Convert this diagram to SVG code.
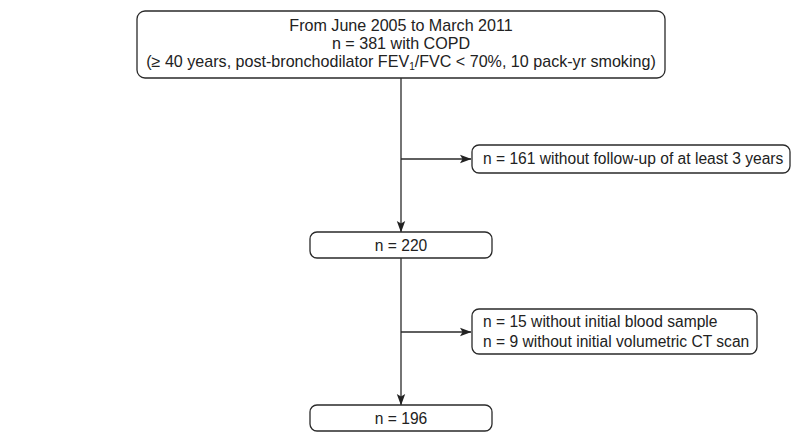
<svg xmlns="http://www.w3.org/2000/svg" width="797" height="432" viewBox="0 0 797 432">
<style>
.box{fill:#fff;stroke:#2a2a2a;stroke-width:1.3}
.t{font-family:"Liberation Sans",Arial,sans-serif;font-size:15.6px;fill:#222}
.big{font-size:16.1px}
.c{text-anchor:middle}
.ln{stroke:#2a2a2a;stroke-width:1.3;fill:none}
</style>
<defs>
<marker id="ah" markerWidth="12" markerHeight="10" refX="11" refY="5" orient="auto" markerUnits="userSpaceOnUse">
<path d="M0,0.8 L11.5,5 L0,9.2 L2.5,5 Z" fill="#222"/>
</marker>
</defs>
<rect width="797" height="432" fill="#fff"/>
<g id="connectors">
<line class="ln" x1="401" y1="78" x2="401" y2="232" marker-end="url(#ah)"/>
<line class="ln" x1="401" y1="159" x2="471" y2="159" marker-end="url(#ah)"/>
<line class="ln" x1="401" y1="258" x2="401" y2="405" marker-end="url(#ah)"/>
<line class="ln" x1="401" y1="332" x2="471" y2="332" marker-end="url(#ah)"/>
</g>
<g id="n1">
<rect class="box" x="137" y="11" width="528" height="67" rx="8"/>
<text class="t big c" x="401" y="31">From June 2005 to March 2011</text>
<text class="t big c" x="401" y="49">n = 381 with COPD</text>
<text class="t big c" x="401" y="67">(≥ 40 years, post-bronchodilator FEV<tspan font-size="10" dy="3">1</tspan><tspan dy="-3">/FVC &lt; 70%, 10 pack-yr smoking)</tspan></text>
</g>
<g id="n2">
<rect class="box" x="472" y="145" width="318" height="28" rx="7"/>
<text class="t" x="483" y="164">n = 161 without follow-up of at least 3 years</text>
</g>
<g id="n3">
<rect class="box" x="310" y="232" width="182" height="26" rx="7"/>
<text class="t c" x="401" y="251">n = 220</text>
</g>
<g id="n4">
<rect class="box" x="472" y="309" width="285" height="45" rx="7"/>
<text class="t" x="483" y="327">n = 15 without initial blood sample</text>
<text class="t" x="483" y="347">n = 9 without initial volumetric CT scan</text>
</g>
<g id="n5">
<rect class="box" x="310" y="405" width="182" height="26" rx="7"/>
<text class="t c" x="401" y="424">n = 196</text>
</g>
</svg>
